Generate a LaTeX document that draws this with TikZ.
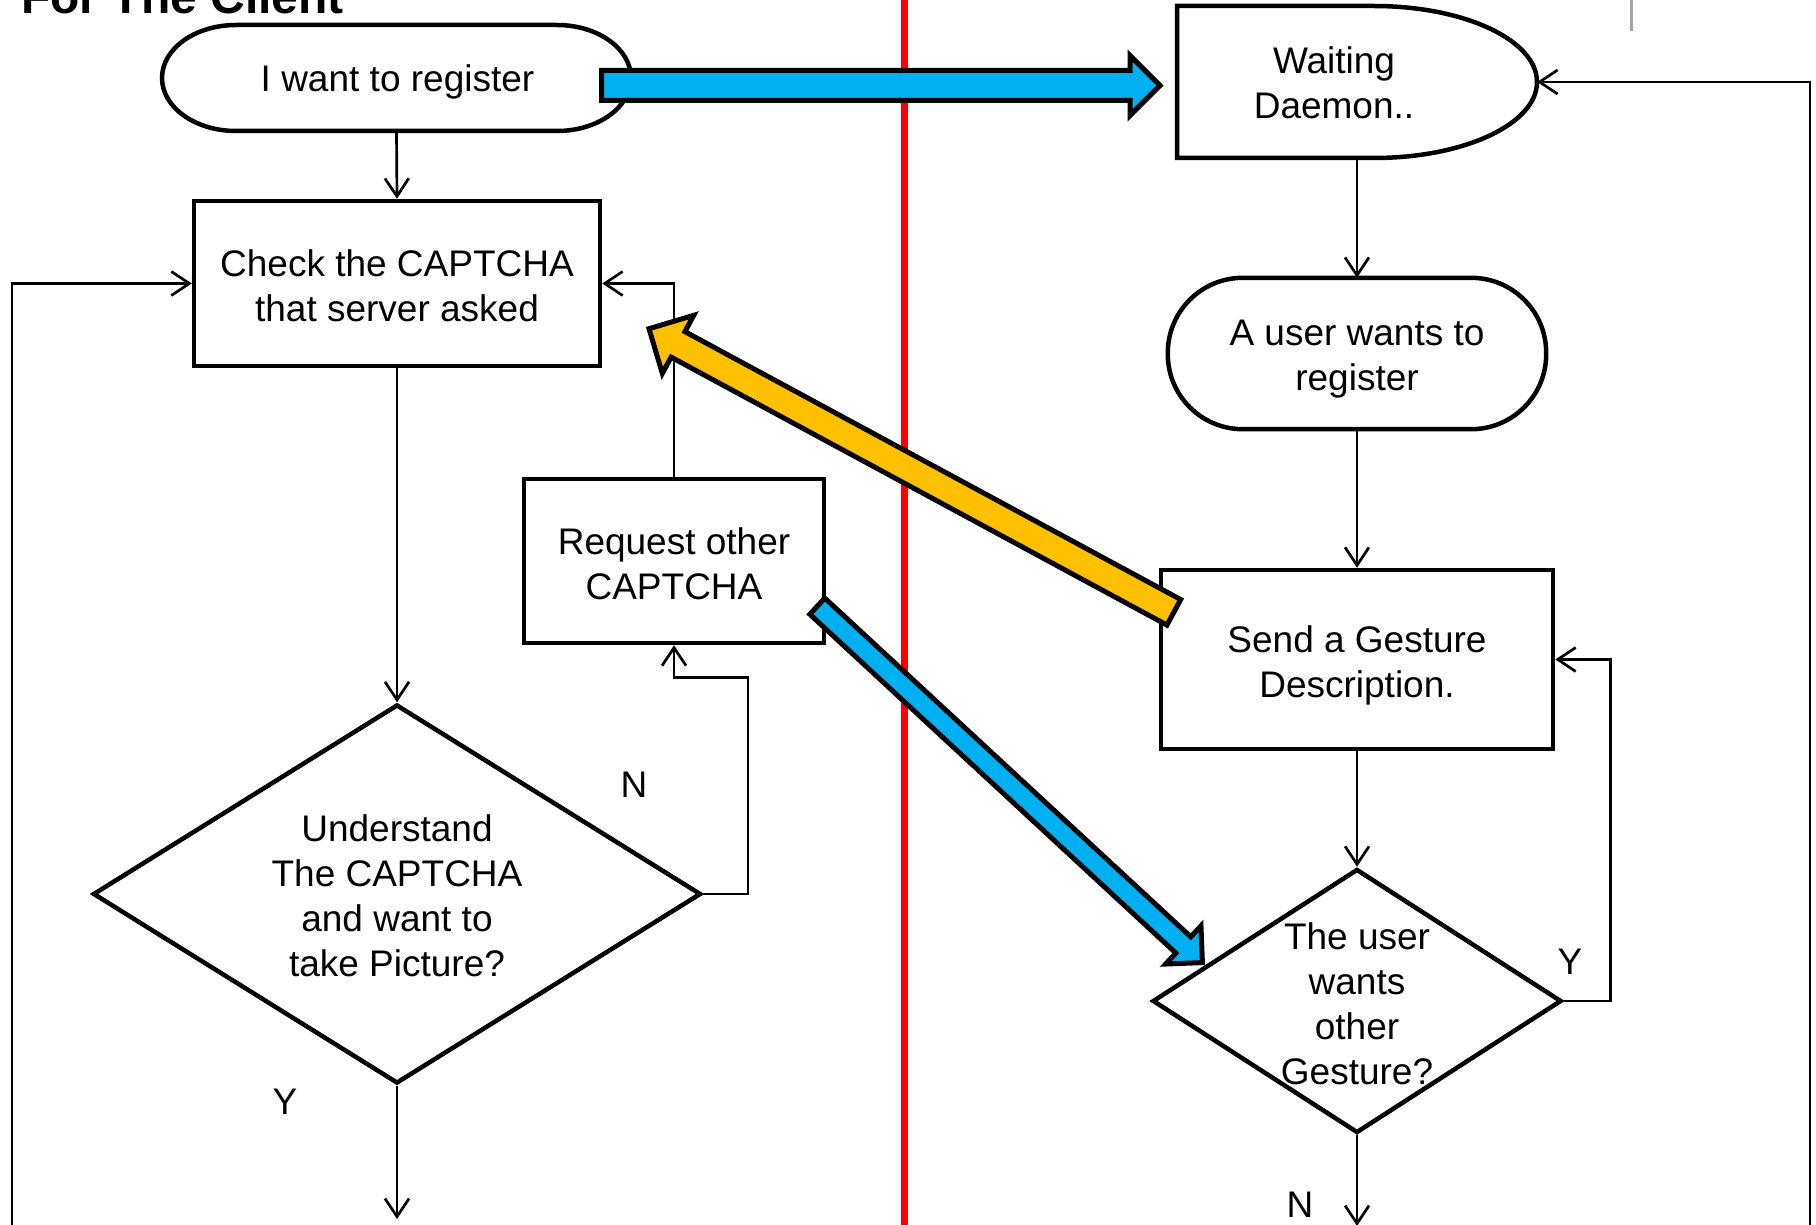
\documentclass[tikz,border=0pt]{standalone}
\usepackage{fontspec}
\setmainfont{Liberation Sans}
\usetikzlibrary{shapes.geometric, arrows.meta, calc}

\definecolor{flowblue}{HTML}{00B0F0}
\definecolor{flowgold}{HTML}{FFC000}

\tikzset{
  outline/.style={draw=black, line width=4.5pt, line join=miter},
  procbox/.style={outline, rectangle, inner sep=0pt},
  decision/.style={outline, diamond, inner sep=0pt},
  textonly/.style={inner sep=0pt, align=center},
  conn/.style={line width=2.7pt, -{Straight Barb[length=18pt, width=24pt]}},
  blockedge/.style={draw=black, line width=5pt, line join=miter},
}

% Wide block arrow from #2 (tail) to #3 (tip):
% #4 shaft half width, #5 head half width, #6 head length
\newcommand\BlockArrow[6]{%
  \path ($(#3)!#6!(#2)$) coordinate (ba-base);
  \draw[blockedge, fill=#1]
    ($(#2)!#4!90:(#3)$) -- ($(ba-base)!#4!90:(#3)$) --
    ($(ba-base)!#5!90:(#3)$) -- (#3) --
    ($(ba-base)!#5!-90:(#3)$) -- ($(ba-base)!#4!-90:(#3)$) --
    ($(#2)!#4!-90:(#3)$) -- cycle;
}

\begin{document}
\begin{tikzpicture}[x=1pt, y=-1pt, font=\fontsize{37}{45}\selectfont]
\useasboundingbox (0,0) rectangle (1816,1225);
\clip (0,0) rectangle (1816,1225);

% ---------- client side ----------
\node[textonly, anchor=base west, font=\fontsize{48}{56}\selectfont\bfseries]
  (title) at (21,14) {For The Client};

\node[textonly, minimum width=469pt, minimum height=106pt] (reg) at (396.5,78) {};
\draw[outline] (236,25) -- (557,25)
  arc[start angle=-90, end angle=90, x radius=74, y radius=53] -- (236,131)
  arc[start angle=90, end angle=270, x radius=74, y radius=53] -- cycle;
\node[textonly] (regt) at ($(reg.center)+(1,4)$) {I want to register};

\node[procbox, minimum width=406pt, minimum height=165pt] (check) at (397,283.5) {};
\node[textonly] (checkt) at ($(check.center)+(0,2.5)$) {Check the CAPTCHA\\that server asked};

\node[decision, minimum width=608pt, minimum height=379pt] (ask) at (397,894) {};
\node[textonly] (askt) at ($(ask.center)+(0,2)$) {Understand\\The CAPTCHA\\and want to\\take Picture?};

\node[procbox, minimum width=300pt, minimum height=164pt] (req) at (674,561) {};
\node[textonly] (reqt) at ($(req.center)+(0,2.5)$) {Request other\\CAPTCHA};

\node[textonly] (yleft) at (285,1102) {Y};
\node[textonly] (nmid) at (634,785) {N};

\coordinate (leftend) at (12,1230);
\coordinate (yend) at (397,1219);

\draw[conn] (reg.south) -- (check.north);
\draw[conn] (check.south) -- (ask.north);
\draw[conn] (ask.south) -- (yend);
\draw[conn] (ask.east) -| ($(req.south)+(74,32)$) -| (req.south);
\draw[conn] (req.north) |- (check.east);
\draw[conn] (leftend) |- (check.west);

% ---------- server side ----------
\node[textonly, minimum width=360pt, minimum height=152pt] (wait) at (1357,82) {};
\draw[outline] (1177,6) -- (1374,6)
  arc[start angle=-90, end angle=90, x radius=163, y radius=76] -- (1177,158) -- cycle;
\node[textonly] (waitt) at (1334,83) {Waiting\\Daemon..};

\node[textonly, minimum width=378pt, minimum height=151pt] (user) at (1357,353.5) {};
\draw[outline, rounded corners=75pt] (user.north west) rectangle (user.south east);
\node[textonly] (usert) at ($(user.center)+(0,6)$) {A user wants to\\register};

\node[procbox, minimum width=392pt, minimum height=179pt] (send) at (1357,659.5) {};
\node[textonly] (sendt) at ($(send.center)+(0,6)$) {Send a Gesture\\Description.};

\node[decision, minimum width=409pt, minimum height=264pt] (more) at (1357,1001) {};
\node[textonly] (moret) at (1357,1004) {The user\\wants\\other\\Gesture?};

\node[textonly] (yright) at (1570,962) {Y};
\node[textonly] (nbottom) at (1300,1205) {N};

\coordinate (rightend) at (1810,1230);
\coordinate (nend) at (1357,1226);

\draw[conn] (wait.south) -- (user.north);
\draw[conn] (user.south) -- (send.north);
\draw[conn] (send.south) -- (more.north);
\draw[conn] (more.south) -- (nend);
\draw[conn] (more.east) -| ($(send.east)+(55,0)$) -- (send.east);
\draw[conn] (rightend) |- (wait.east);

% ---------- divider and marks ----------
\coordinate (divtop) at (904,-5);
\coordinate (divbot) at (904,1230);
\draw[line width=7pt, red] (divtop) -- (divbot);
\draw[line width=3pt, black!35] (1631,-2) -- (1631,31);

% ---------- message arrows ----------
\coordinate (ha-tail) at (601.5,85.5);
\coordinate (ha-tip) at (1160,85.5);
\BlockArrow{flowblue}{ha-tail}{ha-tip}{15pt}{30pt}{30pt}

\coordinate (ya-tail) at (1173.8,612.3);
\coordinate (ya-tip) at (649,328.7);
\BlockArrow{flowgold}{ya-tail}{ya-tip}{14.5pt}{33pt}{33pt}

\coordinate (da-tail) at (817.3,606.2);
\coordinate (da-tip) at (1202.4,962.6);
\BlockArrow{flowblue}{da-tail}{da-tip}{11pt}{26pt}{26pt}
\end{tikzpicture}
\end{document}
